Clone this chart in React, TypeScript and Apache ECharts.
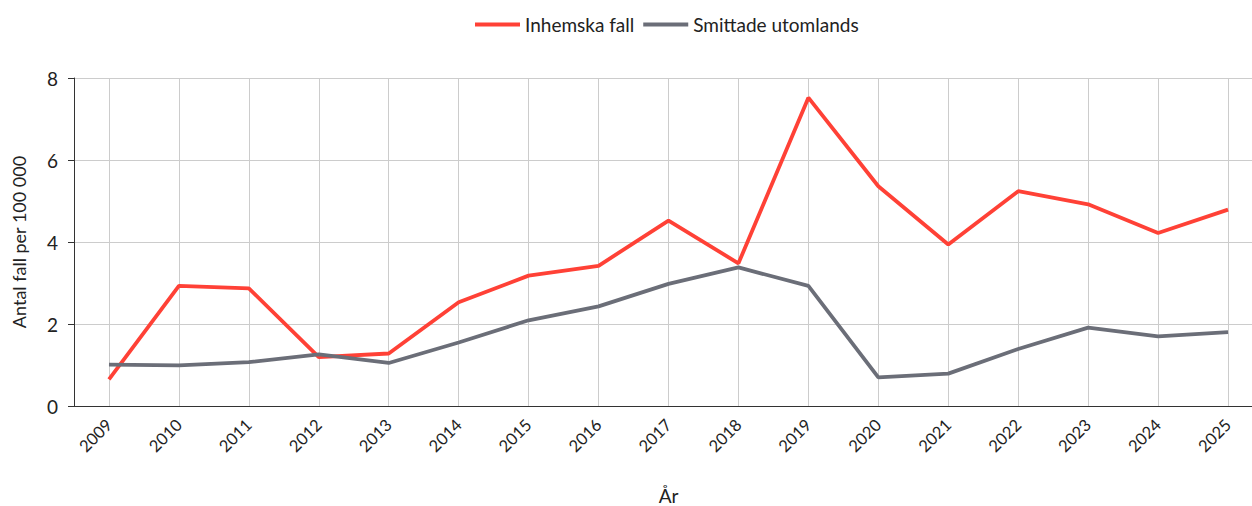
import React, { useEffect, useRef } from "react";
import * as echarts from "echarts";

const years = ["2009","2010","2011","2012","2013","2014","2015","2016","2017","2018","2019","2020","2021","2022","2023","2024","2025"];
const inhemska = [0.65, 2.93, 2.87, 1.19, 1.28, 2.53, 3.18, 3.42, 4.52, 3.48, 7.52, 5.36, 3.94, 5.24, 4.92, 4.22, 4.79];
const utomlands = [1.01, 0.99, 1.07, 1.26, 1.05, 1.55, 2.09, 2.43, 2.98, 3.38, 2.93, 0.7, 0.79, 1.39, 1.91, 1.7, 1.8];
const seriesNames = ["Inhemska fall", "Smittade utomlands"];
const yAxisName = "Antal fall per 100 000";
const xAxisName = "År";

const FONT = "Lato, 'Noto Sans', sans-serif";

export default function App() {
  const ref = useRef<HTMLDivElement>(null);
  useEffect(() => {
    if (!ref.current) return;
    const chart = echarts.init(ref.current, null, { renderer: "svg" });
    chart.setOption({
      animation: false,
      textStyle: { fontFamily: FONT },
      legend: {
        top: 10,
        left: 470,
        itemWidth: 45,
        itemHeight: 4,
        itemGap: 9,
        icon: "rect",
        textStyle: { fontSize: 19, color: "#222", fontFamily: FONT },
        data: seriesNames,
      },
      grid: {
        left: 74,
        width: 1189,
        top: 78,
        bottom: 100,
        containLabel: false,
        outerBoundsMode: "none",
      },
      xAxis: {
        type: "category",
        data: years,
        boundaryGap: true,
        name: xAxisName,
        nameLocation: "middle",
        nameGap: 80,
        nameTextStyle: { fontSize: 19, color: "#222", fontFamily: FONT },
        axisLine: { lineStyle: { color: "#333", width: 1 } },
        axisTick: { alignWithLabel: true, length: 6, lineStyle: { color: "#bbb" } },
        axisLabel: { rotate: 45, fontSize: 16.5, color: "#222", margin: 16, fontFamily: FONT },
        splitLine: { show: true, alignWithLabel: true, lineStyle: { color: "#ccc", width: 1 } },
      },
      yAxis: {
        type: "value",
        min: 0,
        max: 8,
        interval: 2,
        name: yAxisName,
        nameLocation: "middle",
        nameGap: 46,
        nameRotate: 90,
        nameTextStyle: { fontSize: 18, color: "#222", fontFamily: FONT },
        axisLine: { show: true, lineStyle: { color: "#333", width: 1 } },
        axisTick: { show: true, length: 6, lineStyle: { color: "#333" } },
        axisLabel: { fontSize: 19, color: "#222", margin: 16, fontFamily: FONT },
        splitLine: { show: true, lineStyle: { color: "#ccc", width: 1 } },
      },
      series: [
        {
          name: seriesNames[0],
          type: "line",
          data: inhemska,
          showSymbol: false,
          symbol: "none",
          lineStyle: { color: "#ff4136", width: 3.8 },
          itemStyle: { color: "#ff4136" },
        },
        {
          name: seriesNames[1],
          type: "line",
          data: utomlands,
          showSymbol: false,
          symbol: "none",
          lineStyle: { color: "#6b6e78", width: 3.8 },
          itemStyle: { color: "#6b6e78" },
        },
      ],
    });
    return () => chart.dispose();
  }, []);
  return (
    <div
      ref={ref}
      style={{ position: "fixed", left: 0, top: 0, width: 1252, height: 506, background: "#fff" }}
    />
  );
}
